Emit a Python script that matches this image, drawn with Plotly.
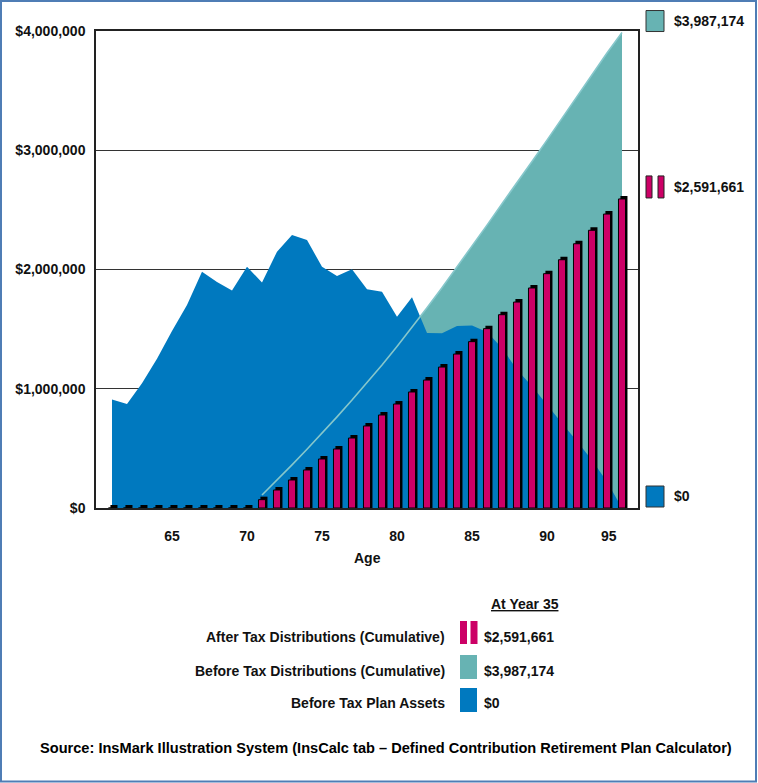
import plotly.graph_objects as go

# ---------------- data ----------------
ages = [61, 62, 63, 64, 65, 66, 67, 68, 69, 70, 71, 72, 73, 74, 75, 76, 77, 78,
        79, 80, 81, 82, 83, 84, 85, 86, 87, 88, 89, 90, 91, 92, 93, 94, 95]

after_tax_dist = [0, 0, 0, 0, 0, 0, 0, 0, 0, 0,
                  70000, 151000, 235000, 319000, 411000, 495000, 587000, 688000,
                  780000, 872000, 973000, 1073000, 1182000, 1291000, 1395000,
                  1504000, 1621000, 1727000, 1845000, 1965000, 2082000, 2216000,
                  2329000, 2465000, 2591661]

dist_ages = [71, 72, 73, 74, 75, 76, 77, 78, 79, 80, 81, 82, 83, 84, 85, 86,
             87, 88, 89, 90, 91, 92, 93, 94, 95]
before_tax_dist = [109000, 234000, 362000, 493000, 627000, 764000, 905000,
                   1050000, 1200000, 1355000, 1515000, 1679000, 1847000,
                   2019000, 2194000, 2372000, 2552000, 2734000, 2905000,
                   3085000, 3270000, 3455000, 3640000, 3815000, 3987174]

plan_assets = [910000, 872000, 1046000, 1251000, 1484000, 1702000, 1982000,
               1895000, 1824000, 2023000, 1891000, 2149000, 2289000, 2247000,
               2023000, 1946000, 2002000, 1834000, 1814000, 1604000, 1767000,
               1468000, 1465000, 1526000, 1530000, 1476000, 1342000, 1160000,
               1020000, 860000, 710000, 560000, 400000, 220000, 0]

y_max = 4000000
y_ticks = [0, 1000000, 2000000, 3000000, 4000000]
y_tick_text = ["$0", "$1,000,000", "$2,000,000", "$3,000,000", "$4,000,000"]
x_ticks = [65, 70, 75, 80, 85, 90]
x_last_tick = 95

series_names = ["After Tax Distributions (Cumulative)",
                "Before Tax Distributions (Cumulative)",
                "Before Tax Plan Assets"]
final_year = 35

# ---------------- style ----------------
BLUE = "#0079BF"
TEAL = "#67B3B3"
TEAL_LINE = "#86C7CB"
MAGENTA = "#CC0066"
FONT = "Liberation Sans, Arial, sans-serif"

W, H = 758, 783
L, R, T, B = 96, 638, 31, 508


def px(x):
    return (x - L) / (R - L)


def py(y):
    return (B - y) / (B - T)


cap = 25000  # height of the dark top face of each 3-D bar (style)
bar_w = 0.47
x_range = [61 - 16 / 15, 61 + 526 / 15]

fig = go.Figure()

# before tax distributions (area)
fig.add_trace(go.Scatter(x=dist_ages, y=before_tax_dist, mode="lines",
                         fill="tozeroy", fillcolor=TEAL,
                         line=dict(color=TEAL, width=0), hoverinfo="skip"))
# before tax plan assets (area)
fig.add_trace(go.Scatter(x=ages, y=plan_assets, mode="lines",
                         fill="tozeroy", fillcolor=BLUE,
                         line=dict(color=BLUE, width=0), hoverinfo="skip"))
# outline of distributions visible over the assets area
fig.add_trace(go.Scatter(x=dist_ages, y=before_tax_dist, mode="lines",
                         line=dict(color=TEAL_LINE, width=1.6), hoverinfo="skip"))
# bar shadows (3-D side / top) -- on overlaying axes so they sit above the areas
fig.add_trace(go.Bar(x=ages, y=[v + cap for v in after_tax_dist],
                     width=bar_w, offset=-bar_w / 2 + 0.13,
                     marker=dict(color="#000000", line=dict(width=0)),
                     xaxis="x2", yaxis="y2", hoverinfo="skip"))
# bars
fig.add_trace(go.Bar(x=ages, y=after_tax_dist,
                     width=bar_w, offset=-bar_w / 2,
                     marker=dict(color=MAGENTA, line=dict(color="#000000", width=1)),
                     xaxis="x2", yaxis="y2", hoverinfo="skip"))

bold = dict(family=FONT, size=14, color="#111111", weight="bold")

shapes = []
annotations = []


def money(v):
    return "${:,.0f}".format(v)


# ---- right-hand end labels ----
end_items = [
    ("sq", TEAL, before_tax_dist[-1]),
    ("bars", MAGENTA, after_tax_dist[-1]),
    ("sq", BLUE, plan_assets[-1]),
]
for kind, col, val in end_items:
    anchor = val / y_max
    if kind == "sq":
        shapes.append(dict(type="rect", xref="paper", yref="paper",
                           xsizemode="pixel", ysizemode="pixel",
                           xanchor=1, yanchor=anchor, x0=8, x1=26, y0=1, y1=22,
                           fillcolor=col, line=dict(color="#333333", width=1)))
    else:
        for a, b in [(8, 14), (20, 26)]:
            shapes.append(dict(type="rect", xref="paper", yref="paper",
                               xsizemode="pixel", ysizemode="pixel",
                               xanchor=1, yanchor=anchor, x0=a, x1=b, y0=1, y1=23,
                               fillcolor=col, line=dict(color="#222222", width=1)))
    annotations.append(dict(xref="paper", yref="paper", x=px(672), y=anchor,
                            yshift=12, text=money(val), showarrow=False,
                            xanchor="left", yanchor="middle", font=bold))

# ---- bottom legend ----
annotations.append(dict(xref="paper", yref="paper", x=px(524.5), y=py(604),
                        text="<u>At Year {}</u>".format(final_year),
                        showarrow=False, xanchor="center", yanchor="middle",
                        font=bold))
rows = [
    (series_names[0], "bars", MAGENTA, after_tax_dist[-1], 636.5, 621, 644),
    (series_names[1], "sq", TEAL, before_tax_dist[-1], 670.5, 655, 679),
    (series_names[2], "sq", BLUE, plan_assets[-1], 703, 688, 712),
]
for name, kind, col, val, yc, ytop, ybot in rows:
    annotations.append(dict(xref="paper", yref="paper", x=px(447), y=py(yc),
                            text=name, showarrow=False, xanchor="right",
                            yanchor="middle", font=bold))
    annotations.append(dict(xref="paper", yref="paper", x=px(482), y=py(yc),
                            text=money(val), showarrow=False, xanchor="left",
                            yanchor="middle", font=bold))
    if kind == "sq":
        shapes.append(dict(type="rect", xref="paper", yref="paper",
                           x0=px(460), x1=px(477), y0=py(ybot), y1=py(ytop),
                           fillcolor=col, line=dict(width=0)))
    else:
        for a, b in [(460, 467), (470.5, 477.5)]:
            shapes.append(dict(type="rect", xref="paper", yref="paper",
                               x0=px(a), x1=px(b), y0=py(ybot), y1=py(ytop),
                               fillcolor=col, line=dict(width=0)))

# x axis last tick label (drawn slightly left, as in the source)
annotations.append(dict(xref="x", yref="paper", x=x_last_tick, y=py(536),
                        xshift=-13, text=str(x_last_tick), showarrow=False,
                        xanchor="center", yanchor="middle", font=bold))
# x axis title
annotations.append(dict(xref="paper", yref="paper", x=0.5, y=py(558),
                        text="Age", showarrow=False, xanchor="center",
                        yanchor="middle", font=bold))
# source
annotations.append(dict(xref="paper", yref="paper", x=px(386), y=py(748),
                        text="Source: InsMark Illustration System (InsCalc tab \u2013 "
                             "Defined Contribution Retirement Plan Calculator)",
                        showarrow=False, xanchor="center", yanchor="middle",
                        font=dict(family=FONT, size=14.6, color="#000000",
                                  weight="bold")))

# outer frame
shapes.append(dict(type="rect", xref="paper", yref="paper",
                   x0=px(1), x1=px(756), y0=py(781.5), y1=py(1),
                   line=dict(color="#4F7DB5", width=2), fillcolor="rgba(0,0,0,0)",
                   layer="above"))

axis_common = dict(zeroline=False, showline=True, linecolor="#222222",
                   linewidth=1.5, mirror=True, tickfont=bold, fixedrange=True)

fig.update_layout(
    width=W, height=H,
    margin=dict(l=L, r=W - R, t=T, b=H - B, autoexpand=False),
    paper_bgcolor="white", plot_bgcolor="white",
    showlegend=False, barmode="overlay",
    shapes=shapes, annotations=annotations,
    font=dict(family=FONT, size=14, color="#111111"),
    xaxis=dict(range=x_range, tickvals=x_ticks,
               ticktext=[str(t) for t in x_ticks], ticks="", showgrid=False,
               ticklabelstandoff=14, **axis_common),
    yaxis=dict(range=[0, y_max], tickvals=y_ticks, ticktext=y_tick_text,
               ticks="", showgrid=True, gridcolor="#333333", gridwidth=1.2,
               ticklabelstandoff=6, **axis_common),
    xaxis2=dict(range=x_range, overlaying="x", visible=False, fixedrange=True),
    yaxis2=dict(range=[0, y_max], overlaying="y", visible=False, fixedrange=True),
)

fig.write_html("out.html",
               config={"displayModeBar": False},
               post_script="document.body.style.margin='0px';"
                           "document.body.style.padding='0px';")
